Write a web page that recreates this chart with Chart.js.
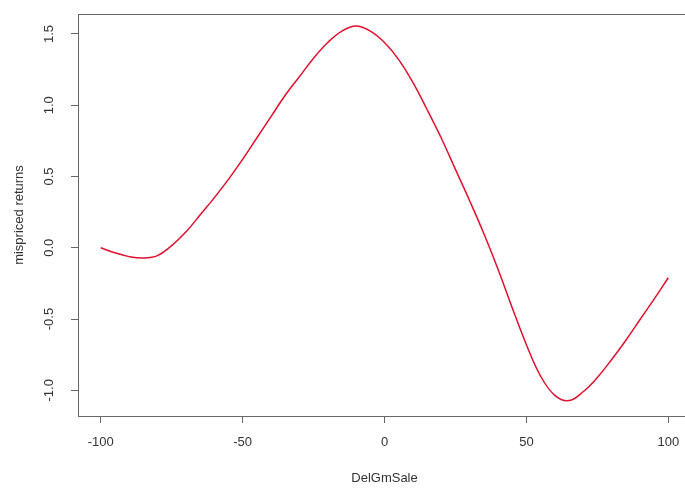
<!DOCTYPE html>
<html>
<head>
<meta charset="utf-8">
<script src="https://cdn.jsdelivr.net/npm/chart.js@4/dist/chart.umd.min.js"></script>
<style>
  html, body { margin: 0; padding: 0; background: #fff; overflow: hidden; }
  #wrap { width: 700px; height: 488px; }
</style>
</head>
<body>
<div id="wrap"><canvas id="myChart" width="700" height="488"></canvas></div>
<script>
// spline of mispriced returns vs DelGmSale
const delGmSale = [
  -100, -95, -90, -85, -80, -75, -70, -65, -60, -55, -50, -45, -40, -35, -30, -25, -20, -15, -10, -5,
  0, 5, 10, 15, 20, 25, 30, 35, 40, 45, 50, 55, 60, 65, 70, 75, 80, 85, 90, 95, 100,
];
const mispriced = [
  0.0, -0.035, -0.062, -0.072, -0.055, 0.015, 0.11, 0.23, 0.35, 0.48, 0.62, 0.77, 0.92, 1.07, 1.2, 1.33, 1.44, 1.52, 1.555, 1.52,
  1.44, 1.32, 1.16, 0.97, 0.77, 0.55, 0.33, 0.1, -0.15, -0.42, -0.68, -0.9, -1.035, -1.072, -1.01, -0.91, -0.785, -0.65, -0.505, -0.36, -0.21,
];
const xTicks = [-100, -50, 0, 50, 100];
const yTicks = [-1.0, -0.5, 0.0, 0.5, 1.0, 1.5];

const axisColor = "#666";
const textColor = "#333";
const font = { family: "'Liberation Sans', Arial, sans-serif", size: 13 };

// R style box round the plot region
const boxPlugin = {
  id: "box",
  afterDraw(chart) {
    const { ctx, chartArea: a } = chart;
    ctx.save();
    ctx.strokeStyle = axisColor;
    ctx.lineWidth = 1;
    ctx.strokeRect(a.left + 0.5, a.top + 0.5, a.right - a.left, a.bottom - a.top);
    ctx.restore();
  },
};

const ctx = document.getElementById("myChart").getContext("2d");

const data = {
  datasets: [
    {
      data: delGmSale.map((x, i) => ({ x: x, y: mispriced[i] })),
      borderColor: "#e0102e",
      borderWidth: 1.5,
      pointRadius: 0,
      fill: false,
      tension: 0.4,
    },
  ],
};

const config = {
  type: "line",
  data: data,
  plugins: [boxPlugin],
  options: {
    responsive: false,
    animation: false,
    layout: { padding: { left: 0, top: 14, right: 9, bottom: 0 } },
    plugins: { legend: { display: false }, tooltip: { enabled: false } },
    scales: {
      x: {
        type: "linear",
        min: -108,
        max: 108,
        afterBuildTicks: (scale) => {
          scale.ticks = xTicks.map((v) => ({ value: v }));
        },
        afterFit: (scale) => {
          scale.height = 72;
          scale.paddingLeft = 0;
          scale.paddingRight = 0;
        },
        grid: { drawOnChartArea: false, color: axisColor, tickLength: 7 },
        border: { color: axisColor },
        ticks: {
          color: textColor,
          font: font,
          padding: 12,
          maxRotation: 0,
          autoSkip: false,
          callback: (v) => String(v),
        },
        title: {
          display: true,
          text: "DelGmSale",
          color: textColor,
          font: font,
          padding: { top: 0, bottom: 2 },
        },
      },
      y: {
        min: -1.18,
        max: 1.64,
        afterBuildTicks: (scale) => {
          scale.ticks = yTicks.map((v) => ({ value: v }));
        },
        afterFit: (scale) => {
          scale.width = 78;
          scale.paddingTop = 0;
          scale.paddingBottom = 0;
        },
        grid: { drawOnChartArea: false, color: axisColor, tickLength: 7 },
        border: { color: axisColor },
        ticks: {
          color: textColor,
          font: font,
          minRotation: 90,
          maxRotation: 90,
          crossAlign: "center",
          padding: 10,
          autoSkip: false,
          callback: (v) => Number(v).toFixed(1),
        },
        title: {
          display: true,
          text: "mispriced returns",
          color: textColor,
          font: font,
          padding: { top: 12, bottom: 0 },
        },
      },
    },
  },
};

const myChart = new Chart(ctx, config);
</script>
</body>
</html>
